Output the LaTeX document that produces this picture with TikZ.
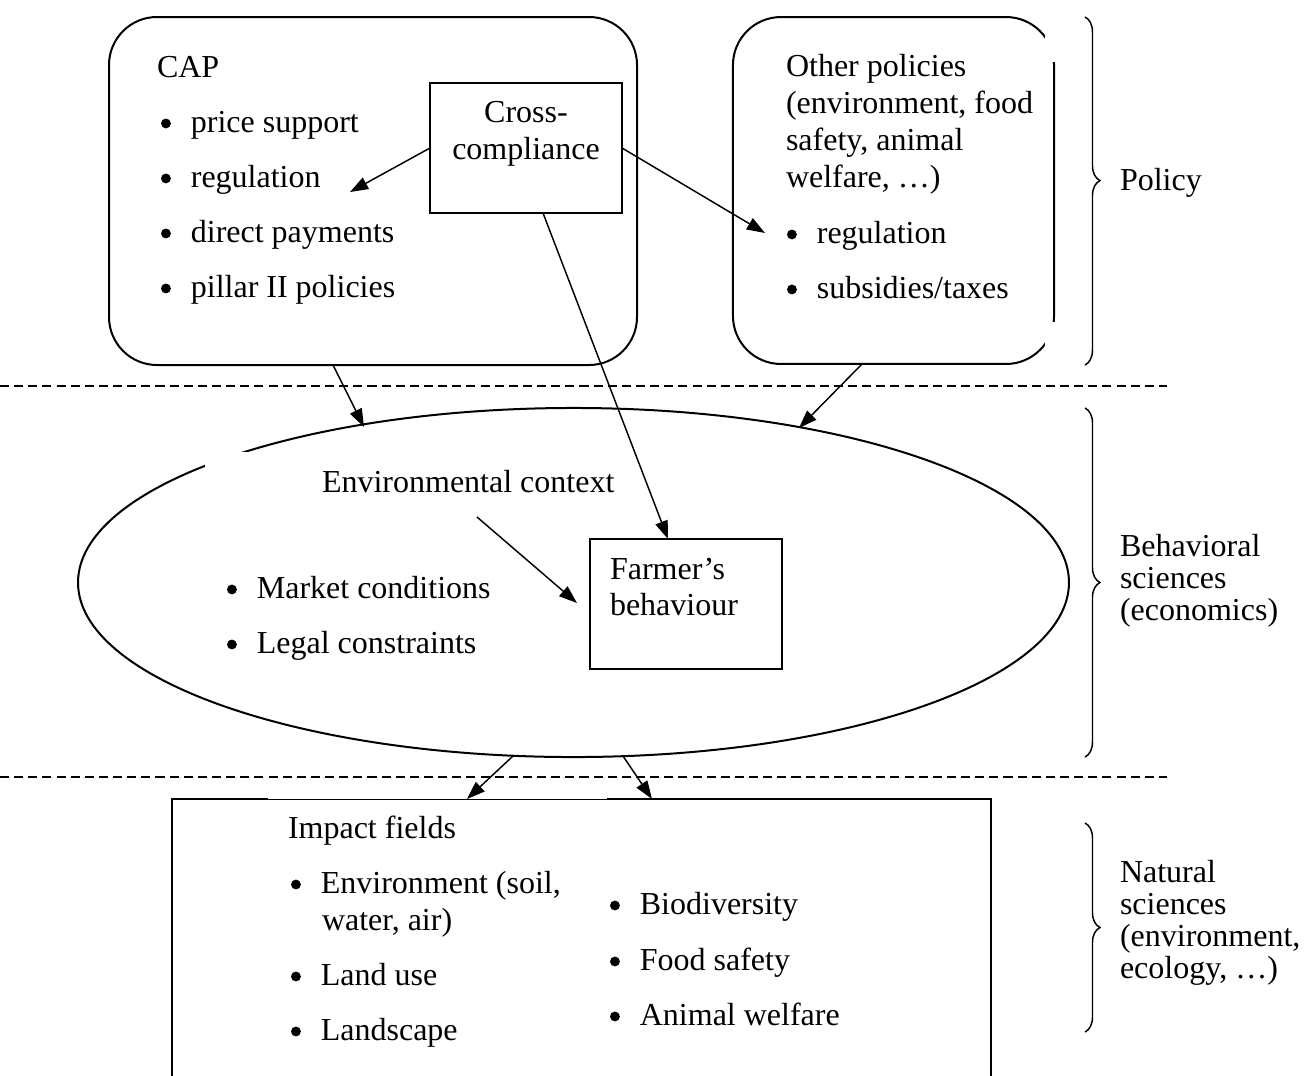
\documentclass[tikz,border=0pt]{standalone}
\usepackage{fontspec}
\setmainfont{Liberation Serif}
\usetikzlibrary{shapes.geometric,arrows.meta,decorations.pathreplacing}
\begin{document}
\begin{tikzpicture}[x=0.375pt,y=-0.375pt,
  font=\fontsize{12pt}{13.9pt}\selectfont,
  txt/.style={anchor=base west,inner sep=0pt,outer sep=0pt},
  ctxt/.style={anchor=base,inner sep=0pt,outer sep=0pt},
  boxline/.style={draw,line width=0.75pt},
  panel/.style={boxline,rectangle,rounded corners=18pt,inner sep=0pt,outer sep=0pt},
  plainbox/.style={boxline,rectangle,inner sep=0pt,outer sep=0pt},
  link/.style={line width=0.55pt,-{Triangle[length=6.8pt,width=4.8pt]}},
  divider/.style={line width=0.5pt,dash pattern=on 3.4pt off 1.9pt},
  bracket/.style={line width=0.55pt,decorate,decoration={brace,amplitude=5.6pt,aspect=#1}},
  bracket/.default=0.5,
  mask/.style={fill=white,draw=none},
]
% list bullet: a solid dot followed by the hanging indent
\newcommand\bul{\tikz[baseline=-3.2pt]\fill (0pt,0pt) circle[radius=1.85pt];\hspace{7.5pt}}
\useasboundingbox (0,0) rectangle (1304,1075);
\clip (0,0) rectangle (1304,1075);

% ---------- policy layer ----------
\node[panel,minimum width=198pt,minimum height=130.5pt] (cap) at (373,191) {};
\node[plainbox,minimum width=72pt,minimum height=48.75pt] (cross) at (526,148) {};
\node[panel,minimum width=120.4pt,minimum height=130.1pt] (other) at (893.5,190.5) {};
% the right-hand corners of the second panel are cut off
\fill[mask] (1045,8) rectangle (1062,62);
\fill[mask] (1045,322) rectangle (1062,372);

\node[txt] (captitle) at (157,77) {CAP};
\node[txt] (cap1) at (161,132) {\bul price support};
\node[txt] (cap2) at (161,187) {\bul regulation};
\node[txt] (cap3) at (161,242) {\bul direct payments};
\node[txt] (cap4) at (161,297) {\bul pillar II policies};

\node[ctxt] (cross1) at (526,122) {Cross-};
\node[ctxt] (cross2) at (526,159) {compliance};

\node[txt] (oth1) at (786,76) {Other policies};
\node[txt] (oth2) at (786,113) {(environment, food};
\node[txt] (oth3) at (786,150) {safety, animal};
\node[txt] (oth4) at (786,187) {welfare, \ldots)};
\node[txt] (oth5) at (787,243) {\bul regulation};
\node[txt] (oth6) at (787,298) {\bul subsidies/taxes};

% ---------- layer separators ----------
\draw[divider] (0,386) -- (1167,386);
\draw[divider] (0,777) -- (1167,777);

% ---------- behaviour layer ----------
\node[ellipse,boxline,inner sep=0pt,outer sep=0pt,minimum width=371.6pt,minimum height=130.9pt] (ctx) at (573.5,582.5) {};
\fill[mask] (205,451.5) rectangle (250,480);
\node[plainbox,minimum width=72pt,minimum height=48.75pt] (farmer) at (686,604) {};

\node[txt] (envctx) at (322,492) {Environmental context};
\node[txt] (mkt) at (227,598) {\bul Market conditions};
\node[txt] (legal) at (227,653) {\bul Legal constraints};
\node[txt] (farm1) at (610,579) {Farmer’s};
\node[txt] (farm2) at (610,615) {behaviour};

% ---------- impact layer ----------
\node[plainbox,minimum width=307.1pt,minimum height=109.1pt] (impact) at (581.5,944.5) {};
\fill[mask] (268,797.2) rectangle (607,798.9);

\node[txt] (imptitle) at (288,838) {Impact fields};
\node[txt] (imp1) at (291,893) {\bul Environment (soil,};
\node[txt] (imp1b) at (322,930) {water, air)};
\node[txt] (imp2) at (291,985) {\bul Land use};
\node[txt] (imp3) at (291,1040) {\bul Landscape};
\node[txt] (imp4) at (610,914) {\bul Biodiversity};
\node[txt] (imp5) at (610,970) {\bul Food safety};
\node[txt] (imp6) at (610,1025) {\bul Animal welfare};

% ---------- connectors ----------
\coordinate (regtip) at (350,192);
\coordinate (oregtip) at (765,233);
\coordinate (ccfoot) at (543,213);
\coordinate (fbtop) at (668,539);
\coordinate (capfoot) at (333,365);
\coordinate (ctxin1) at (364,427);
\coordinate (othfoot) at (862,364);
\coordinate (ctxin2) at (799,428);
\coordinate (envfrom) at (477,517);
\coordinate (fbleft) at (577,603);
\coordinate (ctxout1) at (513,756);
\coordinate (impin1) at (467,799);
\coordinate (ctxout2) at (623,756);
\coordinate (impin2) at (652,799);

\draw[link] (cross.west) -- (regtip);
\draw[link] (cross.east) -- (oregtip);
\draw[link] (ccfoot) -- (fbtop);
\draw[link] (capfoot) -- (ctxin1);
\draw[link] (othfoot) -- (ctxin2);
\draw[link] (envfrom) -- (fbleft);
\draw[link] (ctxout1) -- (impin1);
\draw[link] (ctxout2) -- (impin2);

% ---------- discipline brackets ----------
\draw[bracket=0.47] (1085,17) -- (1085,365);
\draw[bracket] (1085,408) -- (1085,757);
\draw[bracket] (1085,823) -- (1085,1032);

\node[txt] (lpol) at (1120,190) {Policy};
\node[txt] (lbeh1) at (1120,556) {Behavioral};
\node[txt] (lbeh2) at (1120,588) {sciences};
\node[txt] (lbeh3) at (1120,620) {(economics)};
\node[txt] (lnat1) at (1120,882) {Natural};
\node[txt] (lnat2) at (1120,914) {sciences};
\node[txt] (lnat3) at (1120,946) {(environment,};
\node[txt] (lnat4) at (1120,978) {ecology, \ldots)};
\end{tikzpicture}
\end{document}
